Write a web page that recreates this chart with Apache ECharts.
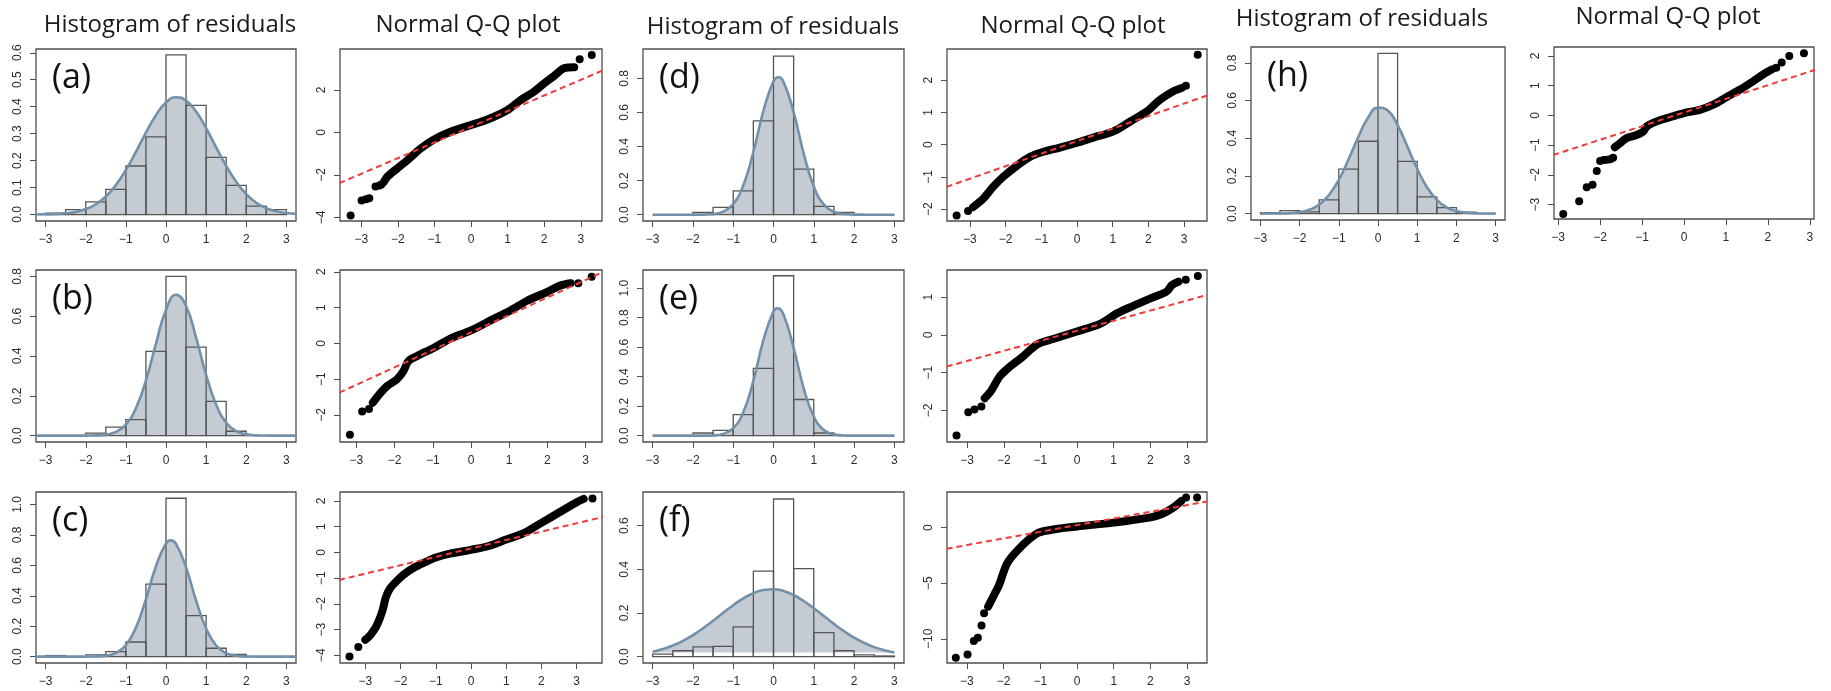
<!DOCTYPE html>
<html>
<head>
<meta charset="utf-8">
<script src="https://cdn.jsdelivr.net/npm/echarts@6/dist/echarts.min.js"></script>
<style>
  html, body { margin: 0; padding: 0; background: #fff; }
  #chart { width: 1831px; height: 691px; }
</style>
</head>
<body>
<div id="chart"></div>
<script>
// histogram breaks (shared by every histogram panel)
const breaks = [-3, -2.5, -2, -1.5, -1, -0.5, 0, 0.5, 1, 1.5, 2, 2.5, 3];

// bar heights (density)
const histA = [0.005, 0.018, 0.047, 0.093, 0.18, 0.288, 0.592, 0.405, 0.212, 0.108, 0.031, 0.018];
const histB = [0, 0, 0.013, 0.043, 0.08, 0.423, 0.8, 0.445, 0.172, 0.022, 0, 0];
const histC = [0.007, 0, 0.011, 0.033, 0.096, 0.476, 1.041, 0.269, 0.055, 0.015, 0, 0];
const histD = [0, 0, 0.014, 0.043, 0.14, 0.55, 0.93, 0.267, 0.049, 0.014, 0, 0];
const histE = [0, 0, 0.018, 0.036, 0.143, 0.456, 1.084, 0.245, 0.018, 0, 0, 0];
const histF = [0.012, 0.027, 0.045, 0.047, 0.136, 0.392, 0.722, 0.403, 0.11, 0.027, 0.008, 0.003];
const histH = [0.005, 0.016, 0.009, 0.073, 0.236, 0.384, 0.85, 0.277, 0.089, 0.032, 0.007, 0];

// fitted normal curves
const curveA = [[-3.25,0.0003],[-3,0.0008],[-2.75,0.0019],[-2.5,0.0045],[-2.25,0.0099],[-2,0.0202],[-1.75,0.0381],[-1.5,0.0669],[-1.25,0.1091],[-1,0.1653],[-0.75,0.2323],[-0.5,0.3037],[-0.25,0.3684],[0,0.4153],[0.25,0.4348],[0.5,0.4227],[0.75,0.3818],[1,0.3202],[1.25,0.2495],[1.5,0.1806],[1.75,0.1213],[2,0.0757],[2.25,0.0439],[2.5,0.0237],[2.75,0.0118],[3,0.0055],[3.25,0.0024]];
const curveB = [[-3.25,0],[-3,0],[-2.75,0],[-2.5,0],[-2.25,0],[-2,0.0002],[-1.75,0.0011],[-1.5,0.0051],[-1.25,0.0185],[-1,0.0556],[-0.75,0.1372],[-0.5,0.2779],[-0.25,0.4621],[0,0.6311],[0.25,0.7076],[0.5,0.6514],[0.75,0.4922],[1,0.3054],[1.25,0.1556],[1.5,0.0651],[1.75,0.0224],[2,0.0063],[2.25,0.0015],[2.5,0.0003],[2.75,0],[3,0],[3.25,0]];
const curveC = [[-3.25,0],[-3,0],[-2.75,0],[-2.5,0],[-2.25,0],[-2,0.0002],[-1.75,0.0012],[-1.5,0.0062],[-1.25,0.0244],[-1,0.0764],[-0.75,0.1905],[-0.5,0.3774],[-0.25,0.5943],[0,0.7441],[0.12,0.764],[0.25,0.7407],[0.5,0.5862],[0.75,0.3689],[1,0.1845],[1.25,0.0733],[1.5,0.0232],[1.75,0.0058],[2,0.0012],[2.25,0.0002],[2.5,0],[2.75,0],[3,0],[3.25,0]];
const curveD = [[-3,0],[-2.75,0],[-2.5,0],[-2.25,0],[-2,0.0001],[-1.75,0.0006],[-1.5,0.0038],[-1.25,0.0175],[-1,0.0623],[-0.75,0.1719],[-0.5,0.3677],[-0.25,0.6097],[0,0.7827],[0.12,0.806],[0.25,0.7786],[0.5,0.6003],[0.75,0.3586],[1,0.166],[1.25,0.0595],[1.5,0.0165],[1.75,0.0036],[2,0.0006],[2.25,0.0001],[2.5,0],[2.75,0],[3,0]];
const curveE = [[-3,0],[-2.75,0],[-2.5,0],[-2.25,0],[-2,0],[-1.75,0.0003],[-1.5,0.0021],[-1.25,0.0121],[-1,0.0507],[-0.75,0.159],[-0.5,0.3717],[-0.25,0.6484],[0,0.844],[0.1,0.864],[0.25,0.8197],[0.5,0.5939],[0.75,0.3212],[1,0.1296],[1.25,0.039],[1.5,0.0088],[1.75,0.0015],[2,0.0002],[2.25,0],[2.5,0],[2.75,0],[3,0]];
const curveF = [[-3,0.0226],[-2.75,0.0346],[-2.5,0.0509],[-2.25,0.0722],[-2,0.0985],[-1.75,0.1297],[-1.5,0.1643],[-1.25,0.2005],[-1,0.2357],[-0.75,0.2667],[-0.5,0.2908],[-0.25,0.3053],[0,0.3088],[0.25,0.3008],[0.5,0.2822],[0.75,0.255],[1,0.2219],[1.25,0.186],[1.5,0.1501],[1.75,0.1167],[2,0.0874],[2.25,0.063],[2.5,0.0438],[2.75,0.0293],[3,0.0189]];
const curveH = [[-3,0],[-2.75,0.0002],[-2.5,0.0008],[-2.25,0.0026],[-2,0.0077],[-1.75,0.0204],[-1.5,0.0476],[-1.25,0.0984],[-1,0.1791],[-0.75,0.288],[-0.5,0.4079],[-0.25,0.5099],[0,0.5622],[0.25,0.5469],[0.5,0.4693],[0.75,0.3553],[1,0.2373],[1.25,0.1398],[1.5,0.0727],[1.75,0.0333],[2,0.0135],[2.25,0.0048],[2.5,0.0015],[2.75,0.0004],[3,0]];

// y tick values of the histograms
const histTicksA = [0, 0.1, 0.2, 0.3, 0.4, 0.5, 0.6];
const histTicks06 = [0, 0.2, 0.4, 0.6];
const histTicks08 = [0, 0.2, 0.4, 0.6, 0.8];
const histTicks10 = [0, 0.2, 0.4, 0.6, 0.8, 1.0];
const xTicks = [-3, -2, -1, 0, 1, 2, 3];

// Q-Q plots: dense part of the point cloud (drawn as a thick trace), isolated points, reference line
const qqBandA = [[-2.38,-2.33],[-2.29,-2.09],[-2.02,-1.7],[-1.74,-1.31],[-1.38,-0.76],[-1.01,-0.33],[-0.56,0.03],[0,0.35],[0.45,0.61],[1.0,1.06],[1.36,1.53],[1.72,1.92],[2.0,2.31],[2.27,2.66],[2.54,3.02],[2.82,3.07]];
const qqDotsA = [[-3.29,-3.91],[-2.99,-3.21],[-2.87,-3.15],[-2.78,-3.1],[-2.61,-2.54],[-2.5,-2.5],[-2.45,-2.45],[2.97,3.45],[3.3,3.65]];
const qqLineA = [[-3.6,-2.39],[3.6,2.92]];

const qqBandB = [[-2.57,-1.66],[-2.38,-1.40],[-2.19,-1.19],[-1.94,-1.01],[-1.77,-0.78],[-1.64,-0.5],[-1.42,-0.36],[-0.98,-0.13],[-0.54,0.13],[0,0.36],[0.51,0.64],[1.03,0.92],[1.47,1.19],[2.0,1.44],[2.35,1.62],[2.61,1.68]];
const qqDotsB = [[-3.17,-2.56],[-2.85,-1.91],[-2.67,-1.84],[2.81,1.68],[3.16,1.86]];
const qqLineB = [[-3.45,-1.38],[3.45,1.99]];

const qqBandC = [[-3.0,-3.4],[-2.85,-3.2],[-2.7,-2.9],[-2.6,-2.6],[-2.5,-2.2],[-2.42,-1.75],[-2.3,-1.4],[-2.1,-1.1],[-1.9,-0.85],[-1.6,-0.58],[-1.3,-0.38],[-1.0,-0.2],[-0.6,-0.05],[0,0.1],[0.5,0.25],[1.0,0.5],[1.5,0.75],[2.0,1.15],[2.5,1.55],[3.0,1.95],[3.2,2.08]];
const qqDotsC = [[-3.45,-4.05],[-3.2,-3.68],[3.45,2.1]];
const qqLineC = [[-3.75,-1.07],[3.75,1.38]];

const qqBandD = [[-2.91,-1.94],[-2.63,-1.68],[-2.35,-1.31],[-2.07,-1.0],[-1.69,-0.66],[-1.32,-0.38],[-0.94,-0.22],[-0.48,-0.09],[0,0.06],[0.46,0.22],[1.02,0.41],[1.49,0.72],[1.95,1.03],[2.33,1.4],[2.7,1.66],[2.93,1.76]];
const qqDotsD = [[-3.37,-2.2],[-3.05,-2.06],[3.05,1.83],[3.38,2.79]];
const qqLineD = [[-3.65,-1.31],[3.65,1.53]];

const qqBandE = [[-2.52,-1.68],[-2.33,-1.46],[-2.11,-1.1],[-1.83,-0.84],[-1.47,-0.57],[-1.1,-0.26],[-0.65,-0.11],[0,0.09],[0.63,0.29],[1.09,0.57],[1.54,0.77],[2.09,1.0],[2.45,1.15],[2.59,1.32],[2.77,1.41]];
const qqDotsE = [[-3.29,-2.67],[-2.97,-2.05],[-2.8,-1.98],[-2.61,-1.9],[2.97,1.46],[3.3,1.56]];
const qqLineE = [[-3.56,-0.84],[3.56,1.06]];

const qqBandF = [[-2.42,-7.1],[-2.28,-6.2],[-2.12,-5.15],[-2.01,-4.1],[-1.9,-3.2],[-1.69,-2.3],[-1.36,-1.2],[-1.04,-0.45],[-0.61,-0.15],[0,0.1],[1.0,0.45],[1.97,0.9],[2.3,1.2],[2.6,1.75],[2.84,2.4]];
const qqDotsF = [[-3.3,-11.7],[-2.98,-11.4],[-2.81,-10.2],[-2.7,-9.9],[-2.6,-8.8],[-2.53,-7.7],[2.97,2.7],[3.27,2.7]];
const qqLineF = [[-3.55,-1.9],[3.55,2.35]];

const qqBandH = [[-1.65,-1.07],[-1.53,-0.94],[-1.37,-0.76],[-1.13,-0.66],[-0.97,-0.54],[-0.89,-0.37],[-0.65,-0.2],[-0.41,-0.09],[0,0.08],[0.38,0.19],[0.7,0.36],[1.02,0.62],[1.34,0.87],[1.65,1.15],[1.89,1.38],[2.1,1.55]];
const qqDotsH = [[-2.88,-3.31],[-2.5,-2.88],[-2.32,-2.41],[-2.18,-2.33],[-2.08,-1.87],[-2.0,-1.53],[-1.92,-1.5],[-1.84,-1.49],[-1.76,-1.47],[-1.69,-1.42],[2.2,1.6],[2.33,1.78],[2.51,2.0],[2.86,2.09]];
const qqLineH = [[-3.12,-1.33],[3.12,1.53]];

const qqTicksA = [-4, -2, 0, 2];
const qqTicksB = [-2, -1, 0, 1, 2];
const qqTicksC = [-4, -3, -2, -1, 0, 1, 2];
const qqTicksD = [-2, -1, 0, 1, 2];
const qqTicksE = [-2, -1, 0, 1];
const qqTicksF = [-10, -5, 0];
const qqTicksH = [-3, -2, -1, 0, 1, 2];

const tags = ['(a)', '(b)', '(c)', '(d)', '(e)', '(f)', '(h)'];

// panels: [left, top, width, height] of the plot box, axis ranges
const hists = [
  { box: [36, 49, 260, 172],   bars: histA, curve: curveA, y: [-0.024, 0.614], ticks: histTicksA, base: 0 },
  { box: [36, 270, 260, 172],  bars: histB, curve: curveB, y: [-0.032, 0.832], ticks: histTicks08, base: 0 },
  { box: [36, 492, 260, 171],  bars: histC, curve: curveC, y: [-0.042, 1.082], ticks: histTicks10, base: 0 },
  { box: [643, 49, 261, 172],  bars: histD, curve: curveD, y: [-0.037, 0.972], ticks: histTicks08, base: 0 },
  { box: [643, 270, 261, 172], bars: histE, curve: curveE, y: [-0.043, 1.123], ticks: histTicks10, base: 0 },
  { box: [643, 492, 261, 171], bars: histF, curve: curveF, y: [-0.029, 0.754], ticks: histTicks06, base: 0.019 },
  { box: [1251, 47, 254, 173], bars: histH, curve: curveH, y: [-0.034, 0.884], ticks: histTicks08, base: 0 }
];
const qqs = [
  { box: [340, 49, 262, 172],   band: qqBandA, dots: qqDotsA, line: qqLineA, x: 3.58, y: [-4.17, 3.93], ticks: qqTicksA },
  { box: [340, 270, 262, 172],  band: qqBandB, dots: qqDotsB, line: qqLineB, x: 3.43, y: [-2.76, 2.05], ticks: qqTicksB },
  { box: [340, 492, 262, 171],  band: qqBandC, dots: qqDotsC, line: qqLineC, x: 3.72, y: [-4.3, 2.35], ticks: qqTicksC },
  { box: [947, 49, 260, 172],   band: qqBandD, dots: qqDotsD, line: qqLineD, x: 3.64, y: [-2.37, 2.97], ticks: qqTicksD },
  { box: [947, 270, 260, 172],  band: qqBandE, dots: qqDotsE, line: qqLineE, x: 3.55, y: [-2.84, 1.72], ticks: qqTicksE },
  { box: [947, 492, 260, 171],  band: qqBandF, dots: qqDotsF, line: qqLineF, x: 3.54, y: [-12.17, 3.2], ticks: qqTicksF },
  { box: [1554, 47, 260, 172],  band: qqBandH, dots: qqDotsH, line: qqLineH, x: 3.1, y: [-3.48, 2.3], ticks: qqTicksH }
];

const INK = '#2b2b2b';
const FRAME = '#4d4d4d';
const minus = v => String(v).replace('-', '\u2212');

const grid = [], xAxis = [], yAxis = [], series = [], graphic = [];

function addAxes(box, xr, yr, yTicks, yFmt) {
  const i = grid.length;
  grid.push({ left: box[0], top: box[1], width: box[2], height: box[3], show: true,
    borderColor: FRAME, borderWidth: 1.3, backgroundColor: 'transparent' });
  const tick = { show: true, length: 6, lineStyle: { color: FRAME, width: 1 } };
  const lab = { fontFamily: 'Liberation Sans', fontSize: 12, color: INK };
  xAxis.push({ type: 'value', gridIndex: i, min: xr[0], max: xr[1], position: 'bottom',
    axisLine: { show: false, onZero: false }, splitLine: { show: false },
    axisTick: Object.assign({ customValues: xTicks }, tick),
    axisLabel: Object.assign({ customValues: xTicks, margin: 13, formatter: minus }, lab) });
  yAxis.push({ type: 'value', gridIndex: i, min: yr[0], max: yr[1], position: 'left',
    axisLine: { show: false, onZero: false }, splitLine: { show: false },
    axisTick: Object.assign({ customValues: yTicks }, tick),
    axisLabel: Object.assign({ customValues: yTicks, margin: 12, rotate: 90, formatter: yFmt }, lab) });
  return i;
}

hists.forEach((p, k) => {
  const i = addAxes(p.box, [-3.24, 3.24], p.y, p.ticks, v => v.toFixed(1));
  const barData = p.bars.map((h, j) => [breaks[j], breaks[j + 1], h]);
  series.push({ type: 'line', xAxisIndex: i, yAxisIndex: i, data: p.curve, smooth: true,
    showSymbol: false, silent: true, z: 1, lineStyle: { opacity: 0 },
    areaStyle: { color: '#c5cbd3', opacity: 1, origin: p.base } });
  series.push({ type: 'custom', xAxisIndex: i, yAxisIndex: i, data: barData, z: 2, silent: true,
    encode: { x: [0, 1], y: 2 },
    renderItem: (params, api) => {
      const a = api.coord([api.value(0), api.value(2)]);
      const b = api.coord([api.value(1), 0]);
      return { type: 'rect', shape: { x: a[0], y: a[1], width: b[0] - a[0], height: b[1] - a[1] },
        style: { fill: 'none', stroke: '#555', lineWidth: 1.3 } };
    } });
  series.push({ type: 'line', xAxisIndex: i, yAxisIndex: i, data: p.curve, smooth: true,
    showSymbol: false, silent: true, z: 3, lineStyle: { color: '#7390aa', width: 2.6 } });
  graphic.push({ type: 'text', left: p.box[0] + 16, top: p.box[1] + 12,
    style: { text: tags[k], font: '34px "Open Sans"', fill: '#111' } });
});

qqs.forEach(p => {
  const i = addAxes(p.box, [-p.x, p.x], p.y, p.ticks, minus);
  series.push({ type: 'line', xAxisIndex: i, yAxisIndex: i, data: p.band, smooth: 0.3,
    showSymbol: false, silent: true, z: 2,
    lineStyle: { color: '#000', width: 8, cap: 'round', join: 'round' } });
  series.push({ type: 'scatter', xAxisIndex: i, yAxisIndex: i, data: p.dots, symbolSize: 8,
    silent: true, z: 2, itemStyle: { color: '#000', opacity: 1 } });
  series.push({ type: 'line', xAxisIndex: i, yAxisIndex: i, data: p.line, showSymbol: false,
    silent: true, z: 3, lineStyle: { color: '#f23a3a', width: 2, type: [6, 4] } });
});

// column titles
const titleSpots = [
  ['Histogram of residuals', 170, 25], ['Normal Q-Q plot', 468, 25],
  ['Histogram of residuals', 773, 27], ['Normal Q-Q plot', 1073, 26],
  ['Histogram of residuals', 1362, 19], ['Normal Q-Q plot', 1668, 17]
];
titleSpots.forEach(t => graphic.push({ type: 'text', x: t[1], y: t[2],
  style: { text: t[0], font: '24px "Open Sans"', fill: '#1a1a1a',
    textAlign: 'center', textVerticalAlign: 'middle', align: 'center', verticalAlign: 'middle' } }));

const chart = echarts.init(document.getElementById('chart'), null, { renderer: 'canvas' });
chart.setOption({ backgroundColor: '#fff', animation: false, grid, xAxis, yAxis, series, graphic });
</script>
</body>
</html>
